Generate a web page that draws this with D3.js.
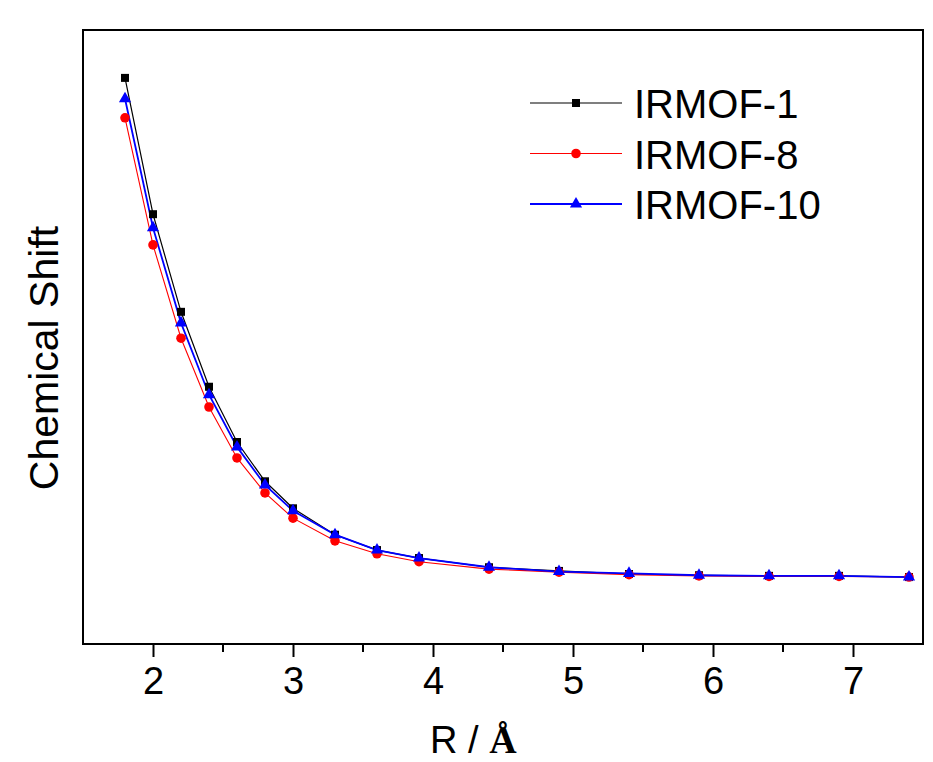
<!DOCTYPE html>
<html>
<head>
<meta charset="utf-8">
<script src="https://cdn.jsdelivr.net/npm/d3@7"></script>
<style>
  body { margin: 0; background: #fff; }
  svg { display: block; }
</style>
</head>
<body>
<svg id="chart"></svg>
<script>
// R values (Å)
var rValues = [1.8, 2.0, 2.2, 2.4, 2.6, 2.8, 3.0, 3.3, 3.6, 3.9, 4.4, 4.9, 5.4, 5.9, 6.4, 6.9, 7.4];
// chemical shift, arbitrary units (no y ticks in the original)
var irmof1 = [92.2, 70.0, 54.1, 41.9, 32.9, 26.5, 22.1, 17.8, 15.3, 14.0, 12.5, 11.9, 11.4, 11.2, 11.1, 11.1, 10.9];
var irmof8 = [85.7, 65.0, 49.8, 38.6, 30.3, 24.6, 20.5, 16.8, 14.7, 13.4, 12.2, 11.7, 11.3, 11.1, 11.0, 11.0, 10.9];
var irmof10 = [88.8, 67.8, 52.3, 40.6, 32.1, 25.9, 21.7, 17.8, 15.3, 14.0, 12.5, 11.8, 11.5, 11.2, 11.1, 11.1, 10.9];
var seriesNames = ["IRMOF-1", "IRMOF-8", "IRMOF-10"];
var xTicks = [2, 3, 4, 5, 6, 7];

var width = 933, height = 762;
var margin = {top: 30, right: 10, bottom: 118, left: 83};

var svg = d3.select("#chart")
    .attr("width", width)
    .attr("height", height);

var x = d3.scaleLinear()
    .domain([1.5, 7.5])
    .range([margin.left, width - margin.right]);
var y = d3.scaleLinear()
    .domain([0, 100])
    .range([height - margin.bottom, margin.top]);

var series = [
  {name: seriesNames[0], values: irmof1, color: "#000000", lw: 1.2, shape: d3.symbolSquare, size: 64},
  {name: seriesNames[1], values: irmof8, color: "#ff0000", lw: 1.1, shape: d3.symbolCircle, size: 72},
  {name: seriesNames[2], values: irmof10, color: "#0000ff", lw: 1.8, shape: d3.symbolTriangle, size: 64}
];

// frame
svg.append("rect")
    .attr("x", margin.left)
    .attr("y", margin.top)
    .attr("width", width - margin.right - margin.left)
    .attr("height", height - margin.bottom - margin.top)
    .attr("fill", "none")
    .attr("stroke", "#000")
    .attr("stroke-width", 2);

// x axis: major + minor ticks, outward
var xAxis = svg.append("g")
    .attr("transform", "translate(0," + (height - margin.bottom) + ")");
xAxis.call(d3.axisBottom(x).tickValues(xTicks).tickSize(13).tickPadding(10).tickFormat(d3.format("d")));
xAxis.append("g").selectAll("line")
    .data([2.5, 3.5, 4.5, 5.5, 6.5])
    .enter().append("line")
    .attr("x1", d => x(d)).attr("x2", d => x(d))
    .attr("y1", 0).attr("y2", 8)
    .attr("stroke", "#000").attr("stroke-width", 2);
xAxis.select(".domain").remove();
xAxis.selectAll(".tick line").attr("stroke-width", 2);
xAxis.selectAll(".tick text")
    .style("font-family", "'Liberation Sans', Arial, sans-serif")
    .style("font-size", "38px")
    .attr("fill", "#000");

// axis titles
var xl = svg.append("text")
    .attr("x", 430)
    .attr("y", 753)
    .style("font-family", "'Liberation Sans', Arial, sans-serif")
    .style("font-size", "38px");
xl.append("tspan").text("R / ");
xl.append("tspan")
    .style("font-family", "'Liberation Serif', 'Times New Roman', serif")
    .style("font-weight", "bold")
    .text("Å");

svg.append("text")
    .attr("transform", "translate(58,358) rotate(-90)")
    .attr("text-anchor", "middle")
    .style("font-family", "'Liberation Sans', Arial, sans-serif")
    .style("font-size", "41px")
    .text("Chemical Shift");

// lines + markers
var line = d3.line()
    .x((d, i) => x(rValues[i]))
    .y(d => y(d));

var g = svg.append("g");
series.forEach(function(s) {
  g.append("path")
      .datum(s.values)
      .attr("d", line)
      .attr("fill", "none")
      .attr("stroke", s.color)
      .attr("stroke-width", s.lw);
});
series.forEach(function(s) {
  g.selectAll(null)
      .data(s.values)
      .enter().append("path")
      .attr("d", d3.symbol().type(s.shape).size(s.size))
      .attr("transform", (d, i) => "translate(" + x(rValues[i]) + "," + y(d) + ")")
      .attr("fill", s.color);
});

// legend
var legend = svg.selectAll("g.legend")
    .data(series)
    .enter().append("g")
    .attr("class", "legend")
    .attr("transform", (d, i) => "translate(530," + (103 + i * 50.5) + ")");
legend.append("line")
    .attr("x1", 0).attr("x2", 92)
    .attr("stroke", d => d.color)
    .attr("stroke-width", d => d.lw);
legend.append("path")
    .attr("d", d => d3.symbol().type(d.shape).size(d.size)())
    .attr("transform", "translate(46,0)")
    .attr("fill", d => d.color);
legend.append("text")
    .attr("x", 104)
    .attr("y", 15)
    .style("font-family", "'Liberation Sans', Arial, sans-serif")
    .style("font-size", "40px")
    .text(d => d.name);
</script>
</body>
</html>
